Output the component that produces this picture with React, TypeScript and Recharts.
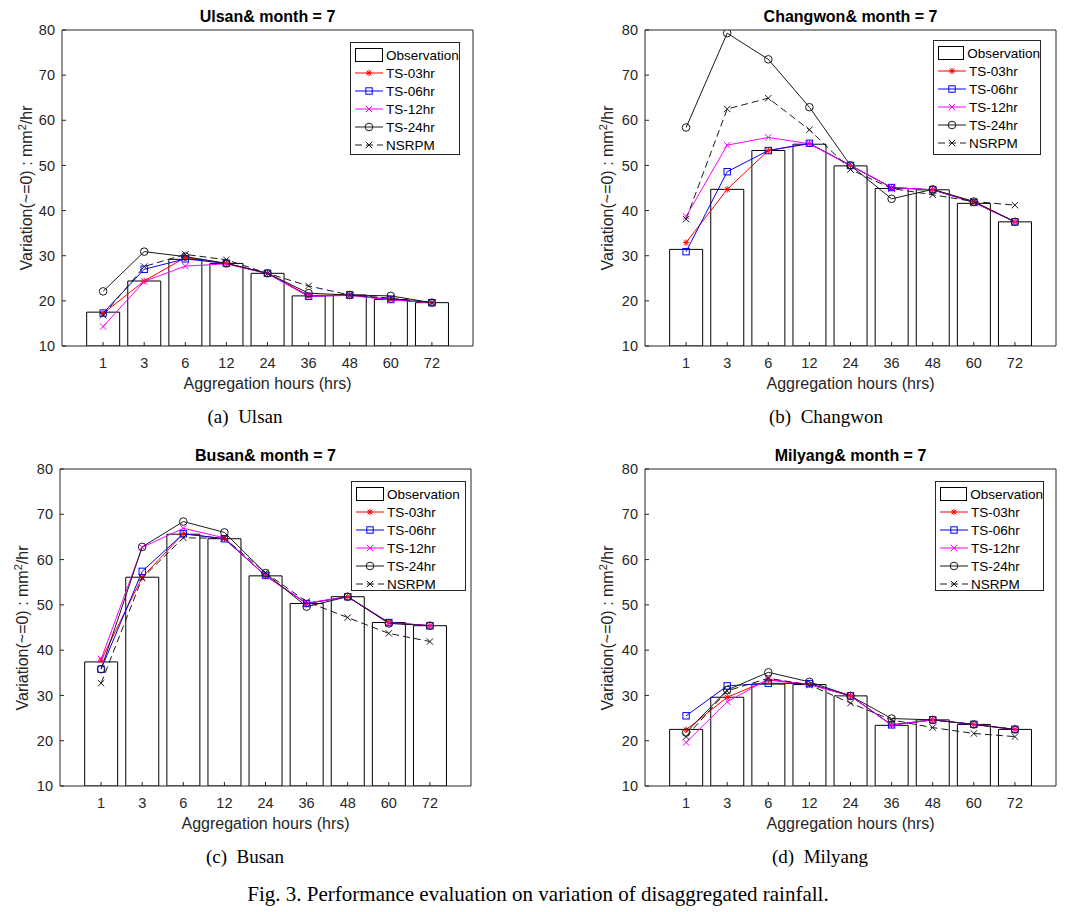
import React from "react";
import { ComposedChart, Bar, Line, XAxis, YAxis, Legend } from "recharts";

// ── Data ────────────────────────────────────────────────────────────────────
const HOURS = ["1", "3", "6", "12", "24", "36", "48", "60", "72"];
const Y_TICKS = [10, 20, 30, 40, 50, 60, 70, 80];

const ulsanObs = [17.5, 24.4, 29.2, 28.3, 26.1, 21.1, 21.3, 20.3, 19.6];
const ulsanTs03 = [17.2, 24.4, 29.6, 28.3, 26.1, 21.2, 21.3, 20.3, 19.6];
const ulsanTs06 = [17.3, 27.0, 29.3, 28.3, 26.1, 21.0, 21.3, 20.3, 19.6];
const ulsanTs12 = [14.3, 24.3, 27.7, 28.2, 26.0, 21.0, 21.2, 20.2, 19.6];
const ulsanTs24 = [22.1, 30.9, 29.8, 28.3, 26.1, 21.7, 21.3, 21.1, 19.6];
const ulsanNsrpm = [16.8, 27.6, 30.3, 29.1, 26.1, 23.3, 21.3, 20.6, 19.6];

const changwonObs = [31.4, 44.7, 53.3, 54.7, 49.9, 44.9, 44.6, 41.6, 37.5];
const changwonTs03 = [32.9, 44.7, 53.3, 54.8, 50.0, 45.1, 44.6, 42.0, 37.5];
const changwonTs06 = [30.9, 48.6, 53.3, 54.9, 50.0, 45.1, 44.6, 41.8, 37.5];
const changwonTs12 = [38.7, 54.5, 56.2, 54.8, 50.0, 45.1, 44.6, 41.8, 37.5];
const changwonTs24 = [58.4, 79.3, 73.5, 62.9, 50.0, 42.6, 44.7, 42.0, 37.5];
const changwonNsrpm = [38.1, 62.5, 64.9, 57.9, 49.1, 44.9, 43.5, 42.0, 41.2];

const busanObs = [37.4, 56.1, 65.6, 64.6, 56.4, 50.3, 51.8, 46.1, 45.4];
const busanTs03 = [37.8, 56.1, 65.7, 64.6, 56.4, 50.3, 51.8, 46.1, 45.4];
const busanTs06 = [35.8, 57.4, 65.7, 64.6, 56.5, 50.3, 51.8, 46.1, 45.4];
const busanTs12 = [38.0, 62.7, 66.9, 64.8, 56.4, 50.4, 51.8, 46.0, 45.4];
const busanTs24 = [35.8, 62.8, 68.4, 66.0, 57.0, 49.6, 51.8, 45.9, 45.4];
const busanNsrpm = [32.7, 55.9, 64.8, 64.7, 57.1, 50.7, 47.2, 43.7, 41.9];

const milyangObs = [22.5, 29.6, 32.5, 32.4, 29.9, 23.4, 24.6, 23.6, 22.5];
const milyangTs03 = [22.4, 29.6, 33.4, 32.4, 29.9, 23.5, 24.6, 23.6, 22.5];
const milyangTs06 = [25.5, 32.1, 32.7, 32.6, 29.9, 23.5, 24.6, 23.6, 22.5];
const milyangTs12 = [19.6, 28.6, 33.6, 32.4, 29.9, 23.4, 24.6, 23.6, 22.5];
const milyangTs24 = [21.8, 31.2, 35.1, 33.0, 29.9, 24.9, 24.6, 23.6, 22.5];
const milyangNsrpm = [20.9, 31.0, 33.8, 32.3, 28.3, 24.6, 22.9, 21.6, 20.9];

// ── Styles ──────────────────────────────────────────────────────────────────
const SANS = "'Liberation Sans', Arial, Helvetica, sans-serif";
const SERIF = "'Liberation Serif', 'DejaVu Serif', serif";
const AXIS_COLOR = "#262626";
const TICK = { fontSize: 14.5, fill: AXIS_COLOR, fontFamily: SANS } as const;

type MarkerShape = "star" | "square" | "x" | "circle";

const SERIES: { key: string; name: string; color: string; marker: MarkerShape; dash?: string }[] = [
  { key: "ts03", name: "TS-03hr", color: "#ff0000", marker: "star" },
  { key: "ts06", name: "TS-06hr", color: "#0000ff", marker: "square" },
  { key: "ts12", name: "TS-12hr", color: "#ff00ff", marker: "x" },
  { key: "ts24", name: "TS-24hr", color: "#1a1a1a", marker: "circle" },
  { key: "nsrpm", name: "NSRPM", color: "#1a1a1a", marker: "x", dash: "7 4" },
];

function Marker({ shape, cx, cy, color }: { shape: MarkerShape; cx: number; cy: number; color: string }) {
  const s = 3.2;
  if (shape === "circle") return <circle cx={cx} cy={cy} r={3.8} fill="none" stroke={color} strokeWidth={1} />;
  if (shape === "square")
    return <rect x={cx - s} y={cy - s} width={2 * s} height={2 * s} fill="none" stroke={color} strokeWidth={1} />;
  if (shape === "x")
    return (
      <path
        d={`M${cx - s},${cy - s}L${cx + s},${cy + s}M${cx - s},${cy + s}L${cx + s},${cy - s}`}
        stroke={color}
        strokeWidth={1}
      />
    );
  return (
    <path
      d={`M${cx - s},${cy}L${cx + s},${cy}M${cx},${cy - s}L${cx},${cy + s}M${cx - s * 0.75},${cy - s * 0.75}L${cx + s * 0.75},${cy + s * 0.75}M${cx - s * 0.75},${cy + s * 0.75}L${cx + s * 0.75},${cy - s * 0.75}`}
      stroke={color}
      strokeWidth={1}
    />
  );
}

function LegendBox() {
  return (
    <div
      style={{
        width: "100%",
        height: "100%",
        boxSizing: "border-box",
        border: `1px solid ${AXIS_COLOR}`,
        background: "#fff",
        fontFamily: SANS,
        fontSize: 13.5,
        color: "#000",
        paddingTop: 3,
      }}
    >
      <div style={{ display: "flex", alignItems: "center", height: 18 }}>
        <div style={{ width: 28, height: 14, border: "1px solid #000", marginLeft: 4, boxSizing: "border-box" }} />
        <span style={{ marginLeft: 3 }}>Observation</span>
      </div>
      {SERIES.map((s) => (
        <div key={s.key} style={{ display: "flex", alignItems: "center", height: 18 }}>
          <svg width={28} height={14} style={{ marginLeft: 4 }}>
            <line x1={0} y1={7} x2={28} y2={7} stroke={s.color} strokeDasharray={s.dash} />
            <Marker shape={s.marker} cx={14} cy={7} color={s.color} />
          </svg>
          <span style={{ marginLeft: 3 }}>{s.name}</span>
        </div>
      ))}
    </div>
  );
}

type Panel = {
  title: string;
  caption: string;
  obs: number[];
  series: Record<string, number[]>;
  axes: { x: number; y: number; w: number; h: number };
  legend: { x: number; y: number; w: number; h: number };
  yLabelX: number;
  captionX: number;
};

const PANELS: Panel[] = [
  {
    title: "Ulsan& month = 7",
    caption: "(a)  Ulsan",
    obs: ulsanObs,
    series: { ts03: ulsanTs03, ts06: ulsanTs06, ts12: ulsanTs12, ts24: ulsanTs24, nsrpm: ulsanNsrpm },
    axes: { x: 62, y: 30, w: 411, h: 316 },
    legend: { x: 350, y: 42, w: 110, h: 113 },
    yLabelX: 26,
    captionX: 245,
  },
  {
    title: "Changwon& month = 7",
    caption: "(b)  Changwon",
    obs: changwonObs,
    series: { ts03: changwonTs03, ts06: changwonTs06, ts12: changwonTs12, ts24: changwonTs24, nsrpm: changwonNsrpm },
    axes: { x: 645, y: 30, w: 411, h: 316 },
    legend: { x: 933, y: 40, w: 108, h: 115 },
    yLabelX: 607,
    captionX: 826,
  },
  {
    title: "Busan& month = 7",
    caption: "(c)  Busan",
    obs: busanObs,
    series: { ts03: busanTs03, ts06: busanTs06, ts12: busanTs12, ts24: busanTs24, nsrpm: busanNsrpm },
    axes: { x: 60, y: 469, w: 411, h: 317 },
    legend: { x: 351, y: 481, w: 115, h: 110 },
    yLabelX: 22,
    captionX: 245,
  },
  {
    title: "Milyang& month = 7",
    caption: "(d)  Milyang",
    obs: milyangObs,
    series: { ts03: milyangTs03, ts06: milyangTs06, ts12: milyangTs12, ts24: milyangTs24, nsrpm: milyangNsrpm },
    axes: { x: 645, y: 469, w: 411, h: 317 },
    legend: { x: 935, y: 481, w: 109, h: 110 },
    yLabelX: 607,
    captionX: 820,
  },
];

const MARGIN_L = 60;
const MARGIN_T = 30;

function Text({ x, y, children, style }: { x: number; y: number; children: React.ReactNode; style?: React.CSSProperties }) {
  return (
    <div
      style={{
        position: "absolute",
        left: x,
        top: y,
        transform: "translate(-50%, -50%)",
        whiteSpace: "pre",
        lineHeight: 1,
        ...style,
      }}
    >
      {children}
    </div>
  );
}

function PanelChart({ p }: { p: Panel }) {
  const { axes } = p;
  const data = HOURS.map((h, i) => {
    const row: Record<string, number | string> = { hour: h, obs: p.obs[i] };
    SERIES.forEach((s) => (row[s.key] = p.series[s.key][i]));
    return row;
  });
  const pad = axes.w / 20;
  const chartLeft = axes.x - MARGIN_L;
  const chartTop = axes.y - MARGIN_T;
  const cx = axes.x + axes.w / 2;

  return (
    <>
      <Text x={cx} y={axes.y - 13} style={{ fontFamily: SANS, fontWeight: "bold", fontSize: 16, color: "#000" }}>
        {p.title}
      </Text>
      <div style={{ position: "absolute", left: chartLeft, top: chartTop }}>
        <ComposedChart
          width={axes.w + MARGIN_L + 20}
          height={axes.h + MARGIN_T + 30}
          data={data}
          margin={{ top: MARGIN_T - 1, right: 19, bottom: 0, left: MARGIN_L - 40 }}
          barCategoryGap="10%"
        >
          <XAxis
            dataKey="hour"
            type="category"
            height={30}
            padding={{ left: pad, right: pad }}
            tick={TICK}
            tickSize={-4}
            tickMargin={16}
            stroke={AXIS_COLOR}
            interval={0}
          />
          {/* mirrored top axis: box edge with inward ticks, no labels */}
          <XAxis
            xAxisId="top"
            dataKey="hour"
            type="category"
            orientation="top"
            height={1}
            padding={{ left: pad, right: pad }}
            tick={false}
            tickSize={-4}
            stroke={AXIS_COLOR}
            interval={0}
          />
          <YAxis
            width={40}
            domain={[10, 80]}
            ticks={Y_TICKS}
            tick={TICK}
            tickSize={-4}
            tickMargin={11}
            stroke={AXIS_COLOR}
            allowDataOverflow
          />
          {/* mirrored right axis */}
          <YAxis
            yAxisId="r"
            orientation="right"
            width={1}
            domain={[10, 80]}
            ticks={Y_TICKS}
            tick={false}
            tickSize={-4}
            stroke={AXIS_COLOR}
            allowDataOverflow
          />
          <Bar dataKey="obs" name="Observation" fill="#ffffff" stroke="#000000" strokeWidth={1} isAnimationActive={false} />
          <Line
            xAxisId="top"
            yAxisId="r"
            dataKey="obs"
            stroke="none"
            dot={false}
            activeDot={false}
            legendType="none"
            isAnimationActive={false}
          />
          {SERIES.map((s) => (
            <Line
              key={s.key}
              type="linear"
              dataKey={s.key}
              name={s.name}
              stroke={s.color}
              strokeWidth={1}
              strokeDasharray={s.dash}
              isAnimationActive={false}
              dot={(props: any) => (
                <Marker
                  key={`${s.key}-${props.index}`}
                  shape={s.marker}
                  cx={props.cx}
                  cy={props.cy}
                  color={s.color}
                />
              )}
              activeDot={false}
            />
          ))}
          <Legend
            layout="vertical"
            align="center"
            verticalAlign="middle"
            content={() => <LegendBox />}
            wrapperStyle={{
              left: p.legend.x - chartLeft,
              top: p.legend.y - chartTop,
              width: p.legend.w,
              height: p.legend.h,
            }}
          />
        </ComposedChart>
      </div>
      <Text x={cx} y={axes.y + axes.h + 38} style={{ fontFamily: SANS, fontSize: 16, color: AXIS_COLOR }}>
        Aggregation hours (hrs)
      </Text>
      <Text
        x={p.yLabelX}
        y={axes.y + axes.h / 2}
        style={{ fontFamily: SANS, fontSize: 16, color: AXIS_COLOR, transform: "translate(-50%, -50%) rotate(-90deg)" }}
      >
        Variation(~=0) : mm<sup style={{ fontSize: 11, verticalAlign: 6 }}>2</sup>/hr
      </Text>
      <Text x={p.captionX} y={axes.y + axes.h + 70} style={{ fontFamily: SERIF, fontSize: 19, color: "#000" }}>
        {p.caption}
      </Text>
    </>
  );
}

export default function App() {
  return (
    <div style={{ position: "absolute", left: 0, top: 0, width: 1076, height: 912, background: "#fff", overflow: "hidden" }}>
      {PANELS.map((p) => (
        <PanelChart key={p.title} p={p} />
      ))}
      <Text x={538} y={894} style={{ fontFamily: SERIF, fontSize: 21, color: "#000" }}>
        Fig. 3. Performance evaluation on variation of disaggregated rainfall.
      </Text>
    </div>
  );
}
